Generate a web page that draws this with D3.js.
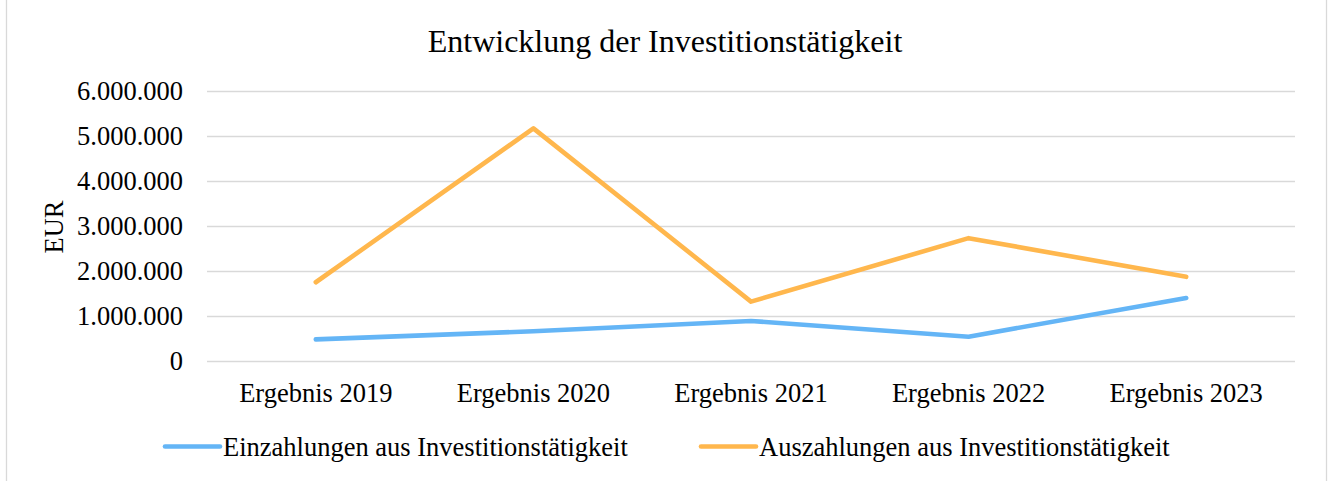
<!DOCTYPE html>
<html>
<head>
<meta charset="utf-8">
<script src="https://cdn.jsdelivr.net/npm/d3@7"></script>
<style>
  html, body { margin: 0; padding: 0; background: #fff; }
  svg { display: block; font-family: "Liberation Serif", "Times New Roman", serif; }
</style>
</head>
<body>
<svg id="chart" width="1333" height="481"></svg>
<script>
// Jahre und Zahlungsströme aus Investitionstätigkeit (EUR)
const categories = ["Ergebnis 2019", "Ergebnis 2020", "Ergebnis 2021", "Ergebnis 2022", "Ergebnis 2023"];
const einzahlungen = [480000, 660000, 890000, 540000, 1400000];
const auszahlungen = [1750000, 5170000, 1320000, 2730000, 1870000];
const seriesNames = ["Einzahlungen aus Investitionstätigkeit", "Auszahlungen aus Investitionstätigkeit"];
const yTicks = [0, 1000000, 2000000, 3000000, 4000000, 5000000, 6000000];
const titleText = "Entwicklung der Investitionstätigkeit";
const yLabel = "EUR";

const colors = ["#64B5F6", "#FFB74D"];
const svg = d3.select("#chart");
const W = 1333, H = 481;
const plot = { left: 207, right: 1295, top: 91, bottom: 361 };

// Rahmen des Diagrammbereichs
svg.append("rect")
  .attr("x", 6.5).attr("y", -5).attr("width", 1320).attr("height", H + 10)
  .attr("fill", "none").attr("stroke", "#d9d9d9").attr("stroke-width", 1.3);

const x = d3.scaleBand().domain(categories).range([plot.left, plot.right]);
const y = d3.scaleLinear().domain([0, 6000000]).range([plot.bottom, plot.top]);

const fmt = v => d3.format(",")(v).replace(/,/g, ".");

// Gitternetzlinien + Beschriftungen der y-Achse
const yAxis = d3.axisLeft(y).tickValues(yTicks)
  .tickSize(-(plot.right - plot.left)).tickPadding(24).tickFormat(fmt);
const gy = svg.append("g").attr("transform", `translate(${plot.left},0)`).call(yAxis);
gy.select(".domain").remove();
gy.selectAll(".tick line").attr("stroke", "#d9d9d9").attr("stroke-width", 1.4);
gy.selectAll(".tick text")
  .attr("font-size", 26.5).attr("font-family", "Liberation Serif, Times New Roman, serif")
  .attr("fill", "#000");

// x-Achse (Kategorien)
const xAxis = d3.axisBottom(x).tickSize(0).tickPadding(22);
const gx = svg.append("g").attr("transform", `translate(0,${plot.bottom})`).call(xAxis);
gx.select(".domain").remove();
gx.selectAll(".tick text")
  .attr("font-size", 26.5).attr("font-family", "Liberation Serif, Times New Roman, serif")
  .attr("fill", "#000");

// Linien
const line = d3.line()
  .x((d, i) => x(categories[i]) + x.bandwidth() / 2)
  .y(d => y(d));

[einzahlungen, auszahlungen].forEach((vals, k) => {
  svg.append("path")
    .datum(vals)
    .attr("d", line)
    .attr("fill", "none")
    .attr("stroke", colors[k])
    .attr("stroke-width", 4.6)
    .attr("stroke-linejoin", "round")
    .attr("stroke-linecap", "round");
});

// Titel
svg.append("text")
  .attr("x", 665).attr("y", 52)
  .attr("text-anchor", "middle")
  .attr("font-size", 32).attr("fill", "#000")
  .text(titleText);

// Achsentitel
svg.append("text")
  .attr("transform", "translate(63,227) rotate(-90)")
  .attr("text-anchor", "middle")
  .attr("font-size", 26.5).attr("fill", "#000")
  .text(yLabel);

// Legende
const legendX = [165, 701];
seriesNames.forEach((name, k) => {
  const g = svg.append("g").attr("transform", `translate(${legendX[k]},446.5)`);
  g.append("line")
    .attr("x1", 0).attr("x2", 55).attr("y1", 0).attr("y2", 0)
    .attr("stroke", colors[k]).attr("stroke-width", 4.6).attr("stroke-linecap", "round");
  g.append("text")
    .attr("x", 58).attr("y", 9)
    .attr("font-size", 26.5).attr("fill", "#000")
    .text(name);
});
</script>
</body>
</html>
